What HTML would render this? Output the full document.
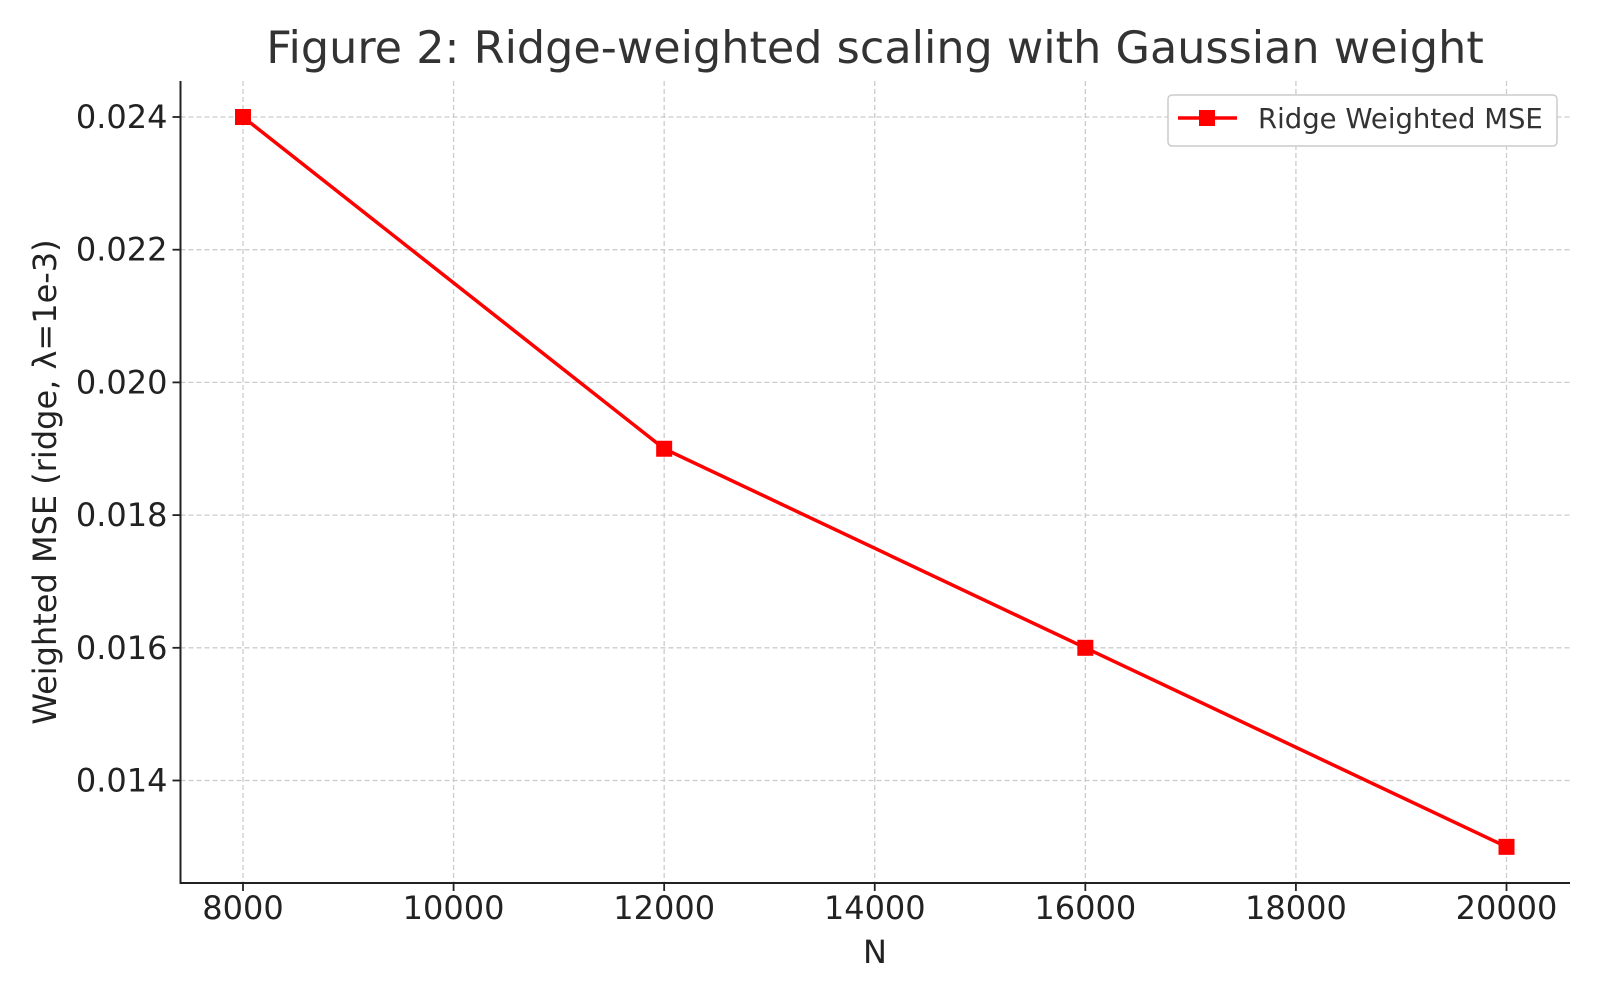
<!DOCTYPE html>
<html><head><meta charset="utf-8"><style>
html,body{margin:0;padding:0;background:#fff}
svg text{font-family:"DejaVu Sans","Liberation Sans",sans-serif}
</style></head><body>
<svg id="chart" width="1600" height="1000" xmlns="http://www.w3.org/2000/svg">
<rect width="1600" height="1000" fill="#fff"/>
<text x="875" y="63" font-size="44.5" fill="#333" text-anchor="middle">Figure 2: Ridge-weighted scaling with Gaussian weight</text>
<g id="grid"></g>
<g id="axes"></g>
<g id="series"></g>
<text x="875" y="963" font-size="32" fill="#222" text-anchor="middle">N</text>
<text transform="translate(56,482) rotate(-90)" font-size="32" fill="#222" text-anchor="middle">Weighted MSE (ridge, λ=1e-3)</text>
<g>
<rect x="1168" y="95" width="389" height="51" rx="4" fill="#fff" stroke="#ccc" stroke-width="1.5"/>
<line x1="1178" y1="118" x2="1237" y2="118" stroke="#f00" stroke-width="3.5"/>
<rect x="1199" y="110" width="16" height="16" fill="#f00"/>
<text x="1258" y="128" font-size="27.5" fill="#333">Ridge Weighted MSE</text>
</g>
</svg>
<script>
const xValues=[8000,12000,16000,20000];
const mseValues=[0.024,0.019,0.016,0.013];
const xTicks=[8000,10000,12000,14000,16000,18000,20000];
const yTicks=[0.014,0.016,0.018,0.020,0.022,0.024];
const yTickLabels=["0.014","0.016","0.018","0.020","0.022","0.024"];
const NS="http://www.w3.org/2000/svg";
const L=180.5,R=1570,T=81,B=883;
function xs(v){return 243+(v-8000)*(1506.5-243)/12000;}
function ys(v){return 117+(0.024-v)*(132.7/0.002);}
function mk(tag,attrs,parent){const e=document.createElementNS(NS,tag);for(const k in attrs)e.setAttribute(k,attrs[k]);parent.appendChild(e);return e;}
const grid=document.getElementById('grid'),axes=document.getElementById('axes'),series=document.getElementById('series');
xTicks.forEach(t=>{
 const g=mk('line',{x1:xs(t),x2:xs(t),y1:T,y2:B,stroke:'#ccc','stroke-width':1.3,'stroke-dasharray':'5,3'},grid);
 
 
 const tk=mk('line',{x1:xs(t),x2:xs(t),y1:B,y2:B+8,stroke:'#222','stroke-width':1.8},axes);
 
 
 const tx=mk('text',{x:xs(t),y:B+36,'font-size':32,fill:'#222','text-anchor':'middle'},axes);
 tx.textContent=String(t);
 
 
});
yTicks.forEach((t,i)=>{
 const g=mk('line',{x1:L,x2:R,y1:ys(t),y2:ys(t),stroke:'#ccc','stroke-width':1.3,'stroke-dasharray':'5,3'},grid);
 
 
 const tk=mk('line',{x1:L-8,x2:L,y1:ys(t),y2:ys(t),stroke:'#222','stroke-width':1.8},axes);
 
 
 const tx=mk('text',{x:L-13,y:ys(t)+11,'font-size':32,fill:'#222','text-anchor':'end'},axes);
 tx.textContent=yTickLabels[i];
 
 
});
const ls=mk('line',{x1:L,x2:L,y1:T,y2:B,stroke:'#222','stroke-width':2},axes);


const bs=mk('line',{x1:L-1,x2:R,y1:B,y2:B,stroke:'#222','stroke-width':2},axes);


const pts=xValues.map((x,i)=>xs(x)+','+ys(mseValues[i])).join(' ');
const pl=mk('polyline',{points:pts,fill:'none',stroke:'#f00','stroke-width':3.5},series);


xValues.forEach((x,i)=>{
 const r=mk('rect',{x:xs(x)-8,y:ys(mseValues[i])-8,width:16,height:16,fill:'#f00'},series);
 
 
});
</script>
</body></html>
